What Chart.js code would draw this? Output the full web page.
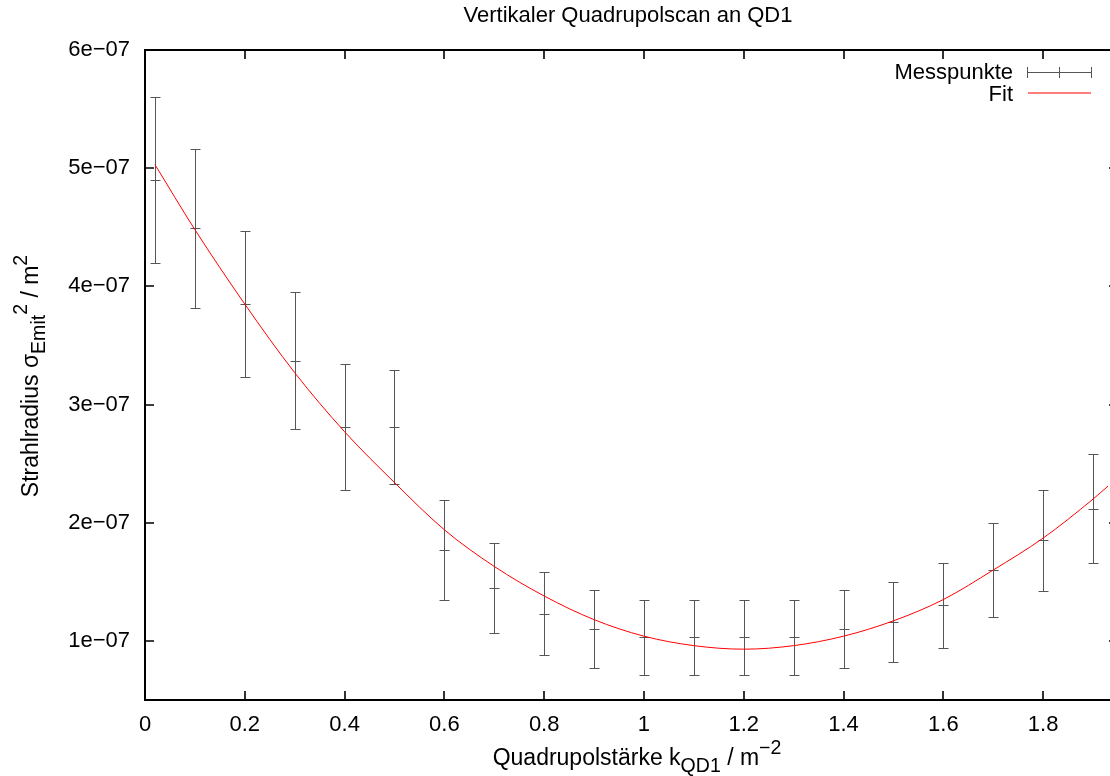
<!DOCTYPE html>
<html>
<head>
<meta charset="utf-8">
<title>Vertikaler Quadrupolscan an QD1</title>
<script src="https://cdn.jsdelivr.net/npm/chart.js@4.4.1/dist/chart.umd.min.js"></script>
<style>
  html, body { margin: 0; padding: 0; background: #fff; overflow: hidden; width: 1110px; height: 776px; }
  /* plot frame runs a few px past the right edge, as in the original */
  #wrap { width: 1118px; height: 776px; position: relative; }
</style>
</head>
<body>
<div id="wrap"><canvas id="scanChart"></canvas></div>
<script>
// Messpunkte: Quadrupolstärke k (1/m^2) und Strahlradius^2 (m^2) mit Fehlern
const kValues = [0.02, 0.1, 0.2, 0.3, 0.4, 0.5, 0.6, 0.7, 0.8, 0.9, 1.0, 1.1, 1.2, 1.3, 1.4, 1.5, 1.6, 1.7, 1.8, 1.9];
const sigmaValues = [4.90e-7, 4.49e-7, 3.85e-7, 3.37e-7, 2.81e-7, 2.81e-7, 1.77e-7, 1.45e-7, 1.23e-7, 1.10e-7,
                     1.03e-7, 1.03e-7, 1.03e-7, 1.03e-7, 1.10e-7, 1.16e-7, 1.30e-7, 1.60e-7, 1.85e-7, 2.12e-7];
const sigmaErrors = [0.70e-7, 0.67e-7, 0.62e-7, 0.58e-7, 0.53e-7, 0.48e-7, 0.42e-7, 0.38e-7, 0.35e-7, 0.33e-7,
                     0.32e-7, 0.32e-7, 0.32e-7, 0.32e-7, 0.33e-7, 0.34e-7, 0.36e-7, 0.40e-7, 0.43e-7, 0.46e-7];

// Fitkurve
const fitK = [0.02, 0.1, 0.2, 0.3, 0.4, 0.5, 0.6, 0.7, 0.8, 0.9, 1.0, 1.1, 1.2, 1.3, 1.4, 1.5, 1.6, 1.7, 1.8, 1.9, 1.93];
const fitValues = [5.03e-7, 4.48e-7, 3.85e-7, 3.27e-7, 2.77e-7, 2.34e-7, 1.94e-7, 1.63e-7, 1.38e-7, 1.18e-7, 1.04e-7,
                   0.96e-7, 0.93e-7, 0.96e-7, 1.04e-7, 1.17e-7, 1.35e-7, 1.60e-7, 1.87e-7, 2.20e-7, 2.31e-7];

// Achsen
const xTicks = [0, 0.2, 0.4, 0.6, 0.8, 1.0, 1.2, 1.4, 1.6, 1.8];
const yTicks = [1e-7, 2e-7, 3e-7, 4e-7, 5e-7, 6e-7];

const FONT = '"Liberation Sans", Arial, Helvetica, sans-serif';
const FS = 22;
const BAR_COLOR = "#555555";
const FIT_COLOR = "#ff0000";

// gnuplot-Stil: 6e−07
function formatExp(v) {
    const [m, e] = v.toExponential(0).split("e");
    const exp = parseInt(e);
    return m + "e" + (exp < 0 ? "\u2212" : "+") + String(Math.abs(exp)).padStart(2, "0");
}

// Text mit Tief-/Hochstellung, zentriert
function drawRich(ctx, parts, cx, baseline, size) {
    const sz = s => (s ? size * 0.85 : size);
    const widths = parts.map(([t, s]) => {
        ctx.font = `${sz(s)}px ${FONT}`;
        return ctx.measureText(t).width;
    });
    let x = cx - widths.reduce((a, b) => a + b, 0) / 2;
    parts.forEach(([t, s], i) => {
        ctx.font = `${sz(s)}px ${FONT}`;
        const dy = s < 0 ? size * 0.3 : s > 0 ? -size * 0.5 : 0;
        ctx.fillText(t, x, baseline + dy);
        x += widths[i];
    });
}

// ✅ Fehlerbalken
const errorBars = {
    id: "errorBars",
    beforeDatasetsDraw(chart) {
        const { ctx, scales: { x, y } } = chart;
        const ds = chart.data.datasets[0];
        ctx.save();
        ctx.strokeStyle = BAR_COLOR;
        ctx.lineWidth = 1;
        ctx.beginPath();
        ds.data.forEach(p => {
            const px = Math.round(x.getPixelForValue(p.x)) + 0.5;
            const yTop = Math.round(y.getPixelForValue(p.yMax)) + 0.5;
            const yBot = Math.round(y.getPixelForValue(p.yMin)) + 0.5;
            const yMid = Math.round(y.getPixelForValue(p.y)) + 0.5;
            ctx.moveTo(px, yTop); ctx.lineTo(px, yBot);
            [yTop, yMid, yBot].forEach(yy => {
                ctx.moveTo(px - 5, yy); ctx.lineTo(px + 5, yy);
            });
        });
        ctx.stroke();
        ctx.restore();
    }
};

// ✅ Rahmen, Ticks nach innen, Titel, Achsenbeschriftung, Legende
const frame = {
    id: "frame",
    afterDraw(chart) {
        const { ctx, chartArea: a, scales: { x, y } } = chart;
        ctx.save();
        ctx.strokeStyle = "#000";
        ctx.lineWidth = 1.6;
        ctx.beginPath();
        xTicks.forEach(v => {
            const px = Math.round(x.getPixelForValue(v));
            ctx.moveTo(px, a.bottom); ctx.lineTo(px, a.bottom - 9);
            ctx.moveTo(px, a.top); ctx.lineTo(px, a.top + 9);
        });
        yTicks.forEach(v => {
            const py = Math.round(y.getPixelForValue(v));
            ctx.moveTo(a.left, py); ctx.lineTo(a.left + 9, py);
            ctx.moveTo(a.right, py); ctx.lineTo(a.right - 9, py);
        });
        ctx.stroke();
        ctx.lineWidth = 2;
        ctx.strokeRect(a.left, a.top, a.right - a.left, a.bottom - a.top);

        ctx.fillStyle = "#000";
        ctx.textAlign = "left";
        ctx.textBaseline = "alphabetic";
        drawRich(ctx, [["Vertikaler Quadrupolscan an QD1", 0]], 628, 22, FS);
        drawRich(ctx, [["Quadrupolst\u00e4rke k", 0], ["QD1", -1], [" / m", 0], ["\u22122", 1]], 637, 765, 23);

        ctx.save();
        ctx.translate(38, 376);
        ctx.rotate(-Math.PI / 2);
        drawRich(ctx, [["Strahlradius \u03c3", 0], ["Emit", -1], ["2", 1], [" / m", 0], ["2", 1]], 0, 0, 23);
        ctx.restore();

        // Legende
        const [pts, fit] = chart.data.datasets;
        ctx.font = `${FS}px ${FONT}`;
        ctx.textAlign = "right";
        ctx.fillText(pts.label, 1013, 79);
        ctx.fillText(fit.label, 1013, 101);
        ctx.lineWidth = 1;
        ctx.strokeStyle = BAR_COLOR;
        ctx.beginPath();
        ctx.moveTo(1027, 72.5); ctx.lineTo(1091, 72.5);
        [1027.5, 1059.5, 1091.5].forEach(lx => { ctx.moveTo(lx, 67); ctx.lineTo(lx, 78); });
        ctx.stroke();
        // soft 2-row red sample like the original
        ctx.strokeStyle = FIT_COLOR;
        ctx.lineWidth = 1.2;
        ctx.beginPath();
        ctx.moveTo(1028, 93); ctx.lineTo(1091, 93);
        ctx.stroke();
        ctx.restore();
    }
};

const data = {
    datasets: [
        {
            label: "Messpunkte",
            data: kValues.map((k, i) => ({
                x: k, y: sigmaValues[i],
                yMin: sigmaValues[i] - sigmaErrors[i],
                yMax: sigmaValues[i] + sigmaErrors[i]
            })),
            borderColor: BAR_COLOR,
            showLine: false,
            pointRadius: 0
        },
        {
            label: "Fit",
            data: fitK.map((k, i) => ({ x: k, y: fitValues[i] })),
            borderColor: FIT_COLOR,
            borderWidth: 1,
            showLine: true,
            pointRadius: 0,
            cubicInterpolationMode: "monotone"
        }
    ]
};

const tickFont = { family: FONT, size: FS };

const config = {
    type: "scatter",
    data: data,
    options: {
        responsive: true,
        maintainAspectRatio: false,
        animation: false,
        devicePixelRatio: 1,
        layout: { padding: { top: 50, right: 0, bottom: 0, left: 0 } },
        plugins: {
            legend: { display: false },
            title: { display: false },
            tooltip: { enabled: false }
        },
        scales: {
            x: {
                type: "linear",
                min: 0,
                max: 1.95,
                grid: { display: false, drawTicks: false },
                border: { display: false },
                afterBuildTicks: s => { s.ticks = xTicks.map(v => ({ value: v })); },
                afterFit: s => { s.height = 76; },
                ticks: {
                    font: tickFont,
                    color: "#000",
                    padding: 12,
                    maxRotation: 0,
                    callback: v => String(+v.toFixed(1))
                }
            },
            y: {
                type: "linear",
                min: 5e-8,
                max: 6e-7,
                grid: { display: false, drawTicks: false },
                border: { display: false },
                afterBuildTicks: s => { s.ticks = yTicks.map(v => ({ value: v })); },
                afterFit: s => { s.width = 145; },
                ticks: {
                    font: tickFont,
                    color: "#000",
                    padding: 15,
                    callback: v => formatExp(v)
                }
            }
        }
    },
    plugins: [errorBars, frame]
};

new Chart(document.getElementById("scanChart"), config);
</script>
</body>
</html>
